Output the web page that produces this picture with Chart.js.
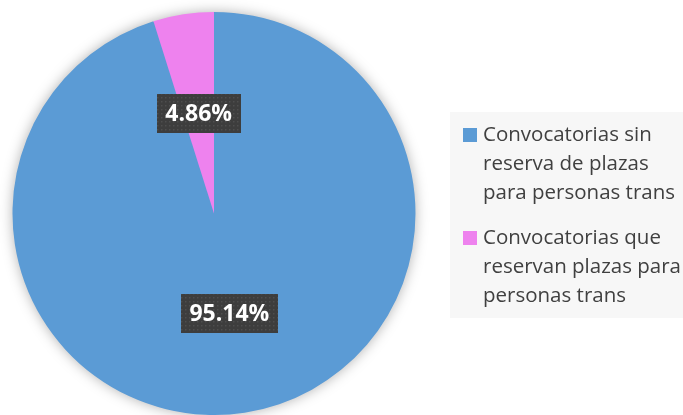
<!DOCTYPE html>
<html>
<head>
<meta charset="utf-8">
<script src="https://cdn.jsdelivr.net/npm/chart.js@4/dist/chart.umd.min.js"></script>
<style>
  html, body { margin: 0; padding: 0; background: #fff; }
  #wrap { width: 683px; height: 415px; position: relative; }
</style>
</head>
<body>
<div id="wrap"><canvas id="pieChart" width="683" height="415"></canvas></div>
<script>
// data
const categories = [
    ['Convocatorias sin', 'reserva de plazas', 'para personas trans'],
    ['Convocatorias que', 'reservan plazas para', 'personas trans']
];
const shares = [95.14, 4.86];
const sliceColors = ['#5B9BD5', '#EE82EE'];

// dotted dark fill for the value labels
function makeDots() {
    const c = document.createElement('canvas');
    c.width = 4; c.height = 4;
    const g = c.getContext('2d');
    g.fillStyle = '#3d3d3d';
    g.fillRect(0, 0, 4, 4);
    g.fillStyle = '#4e4e4e';
    g.fillRect(1, 1, 1.5, 1.5);
    return c;
}

const pieShadow = {
    id: 'pieShadow',
    beforeDatasetsDraw(chart) {
        const arc = chart.getDatasetMeta(0).data[0];
        if (!arc) return;
        const ctx = chart.ctx;
        ctx.save();
        ctx.shadowColor = 'rgba(0,0,0,0.35)';
        ctx.shadowBlur = 14;
        ctx.fillStyle = '#5B9BD5';
        ctx.beginPath();
        ctx.arc(arc.x, arc.y, arc.outerRadius - 1, 0, Math.PI * 2);
        ctx.fill();
        ctx.restore();
    }
};

const valueLabels = {
    id: 'valueLabels',
    afterDatasetsDraw(chart) {
        const ctx = chart.ctx;
        const pattern = ctx.createPattern(makeDots(), 'repeat');
        const meta = chart.getDatasetMeta(0);
        meta.data.forEach((arc, i) => {
            const mid = (arc.startAngle + arc.endAngle) / 2;
            const r = arc.outerRadius * 0.5;
            const x = arc.x + Math.cos(mid) * r;
            const y = arc.y + Math.sin(mid) * r;
            const txt = shares[i].toFixed(2) + '%';
            ctx.save();
            ctx.font = 'bold 23px "Open Sans", sans-serif';
            const w = ctx.measureText(txt).width + 17;
            const h = 39;
            ctx.fillStyle = pattern;
            ctx.fillRect(Math.round(x - w / 2), Math.round(y - h / 2), Math.round(w), h);
            ctx.fillStyle = '#ffffff';
            ctx.textAlign = 'center';
            ctx.textBaseline = 'middle';
            ctx.fillText(txt, x, y + 1);
            ctx.restore();
        });
    }
};

const sideLegend = {
    id: 'sideLegend',
    afterDraw(chart) {
        const ctx = chart.ctx;
        ctx.save();
        ctx.fillStyle = '#f7f7f7';
        ctx.fillRect(450, 112, 233, 206);
        ctx.font = '20.5px "Open Sans", sans-serif';
        ctx.textBaseline = 'middle';
        const tops = [135, 238];
        categories.forEach((lines, i) => {
            ctx.fillStyle = sliceColors[i];
            ctx.fillRect(463, tops[i] - 7, 14, 14);
            ctx.fillStyle = '#404040';
            lines.forEach((line, j) => {
                ctx.fillText(line, 483, tops[i] + j * 29);
            });
        });
        ctx.restore();
    }
};

const ctx = document.getElementById('pieChart').getContext('2d');
const pieChart = new Chart(ctx, {
    type: 'pie',
    data: {
        labels: categories.map(l => l.join(' ')),
        datasets: [{
            data: shares,
            backgroundColor: sliceColors,
            borderWidth: 0
        }]
    },
    options: {
        responsive: false,
        animation: false,
        layout: { padding: { left: 12, top: 12, right: 267, bottom: 0 } },
        plugins: {
            legend: { display: false },
            tooltip: { enabled: false }
        }
    },
    plugins: [pieShadow, valueLabels, sideLegend]
});
</script>
</body>
</html>
